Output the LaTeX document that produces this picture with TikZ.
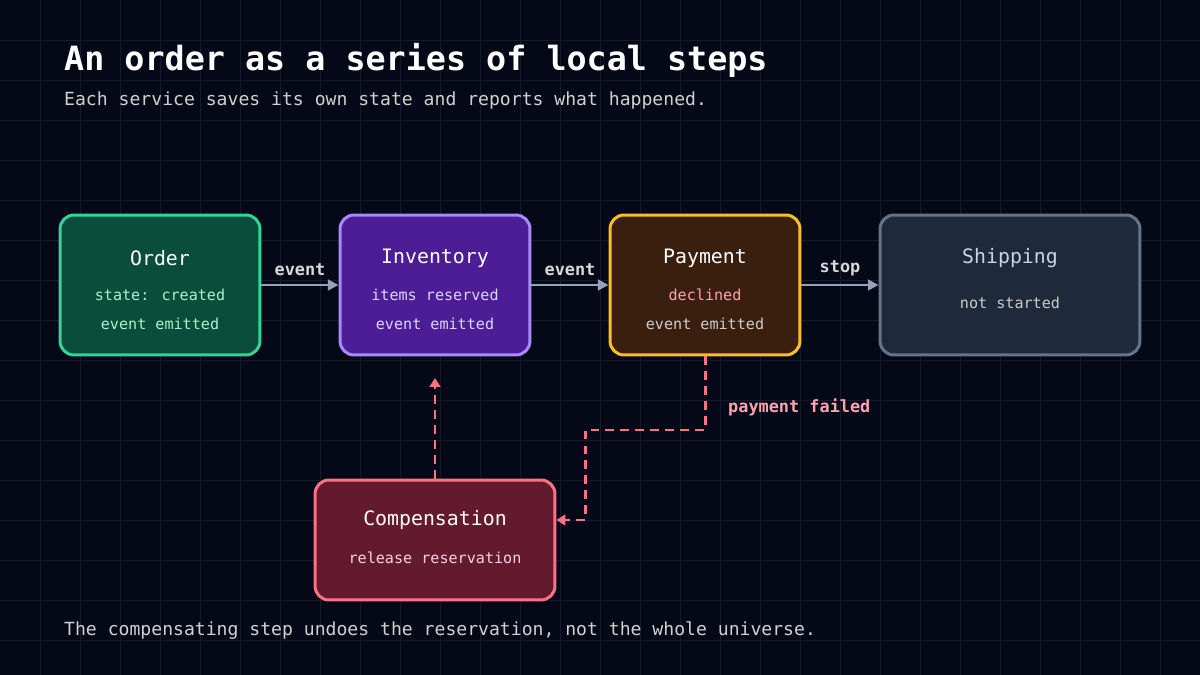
\documentclass[tikz,border=0pt]{standalone}
\usepackage{fontspec}
\setmainfont{DejaVu Sans Mono}
\usetikzlibrary{positioning,arrows.meta}
\definecolor{bg}{HTML}{050816}
\definecolor{gridc}{HTML}{141B2B}
\definecolor{arrowc}{HTML}{94A3B8}
\definecolor{failc}{HTML}{FB7185}
\definecolor{failtext}{HTML}{FDA4AF}
\definecolor{orderfill}{HTML}{0A4D3A}
\definecolor{orderline}{HTML}{34D399}
\definecolor{ordertext}{HTML}{A7F3D0}
\definecolor{invfill}{HTML}{4C1D95}
\definecolor{invline}{HTML}{A78BFA}
\definecolor{invtext}{HTML}{DDD6FE}
\definecolor{payfill}{HTML}{3B1F0E}
\definecolor{payline}{HTML}{FBBF24}
\definecolor{shipfill}{HTML}{1E293B}
\definecolor{shipline}{HTML}{64748B}
\definecolor{shiptext}{HTML}{CBD5E1}
\definecolor{compfill}{HTML}{641A2E}
\definecolor{comptext}{HTML}{FBCFE8}
\tikzset{
  box/.style={draw, line width=1.7pt, rounded corners=0.28cm, minimum height=2.8cm},
  head/.style={text=white, font=\fontsize{11.3}{13}\selectfont},
  sub/.style={font=\fontsize{8.6}{10}\selectfont},
  lbl/.style={text=black!15, font=\bfseries\fontsize{9.6}{11}\selectfont},
  flow/.style={draw=arrowc, line width=1.7pt, -{Triangle[length=6pt,width=6pt]}},
  undo/.style={draw=failc, line width=1.7pt, dash pattern=on 5pt off 3.5pt, -{Triangle[length=5pt,width=6pt]}}
}
\begin{document}
\begin{tikzpicture}[x=0.02cm,y=-0.02cm]
  \fill[bg] (0,0) rectangle (1200,675);
  \useasboundingbox (0,0) rectangle (1200,675);
  \foreach \x in {40,80,...,1160} \draw[gridc, line width=0.5pt] (\x,0) -- (\x,675);
  \foreach \y in {40,80,...,640} \draw[gridc, line width=0.5pt] (0,\y) -- (1200,\y);

  % title
  \node[anchor=west, text=white, font=\bfseries\fontsize{19}{22}\selectfont] (title) at (58,60) {An order as a series of local steps};
  \node[anchor=west, text=black!18, font=\fontsize{10.3}{12}\selectfont] (subtitle) at (58,101) {Each service saves its own state and reports what happened.};

  % boxes
  \node[box, fill=orderfill, draw=orderline, minimum width=4cm] (order) at (160,285) {};
  \node[box, fill=invfill, draw=invline, minimum width=3.8cm] (inventory) at (435,285) {};
  \node[box, fill=payfill, draw=payline, minimum width=3.8cm] (payment) at (705,285) {};
  \node[box, fill=shipfill, draw=shipline, minimum width=5.2cm] (shipping) at (1010,285) {};
  \node[box, fill=compfill, draw=failc, minimum width=4.8cm, minimum height=2.4cm] (comp) at (435,540) {};

  \node[head] at (160,258) {Order};
  \node[sub, text=ordertext] at (160,295) {state: created};
  \node[sub, text=ordertext] at (160,324) {event emitted};
  \node[head] at (435,258) {Inventory};
  \node[sub, text=invtext] at (435,295) {items reserved};
  \node[sub, text=invtext] at (435,324) {event emitted};
  \node[head] at (705,258) {Payment};
  \node[sub, text=failtext] at (705,295) {declined};
  \node[sub, text=black!20] at (705,324) {event emitted};
  \node[head, text=shiptext] at (1010,258) {Shipping};
  \node[sub, text=black!20] at (1010,303) {not started};
  \node[head] at (435,520) {Compensation};
  \node[sub, text=comptext] at (435,558) {release reservation};

  % forward flow
  \draw[flow] (order) -- node[lbl, above=1pt] {event} (inventory);
  \draw[flow] (inventory) -- node[lbl, above=1pt] {event} (payment);
  \draw[flow] (payment) -- node[lbl, above=1pt] {stop} (shipping);

  % compensation path
  \coordinate (up) at (435,378);
  \draw[undo] (payment.south) -- (705,430) -- (585,430) -- (585,520) -- (comp.east |- 0,520);
  \draw[undo] (comp.north) -- (up);
  \node[anchor=west, text=failtext, font=\bfseries\fontsize{9.6}{11}\selectfont] (fail) at (722,407) {payment failed};

  \node[anchor=west, text=black!18, font=\fontsize{10.3}{12}\selectfont] (footer) at (58,631) {The compensating step undoes the reservation, not the whole universe.};
\end{tikzpicture}
\end{document}
